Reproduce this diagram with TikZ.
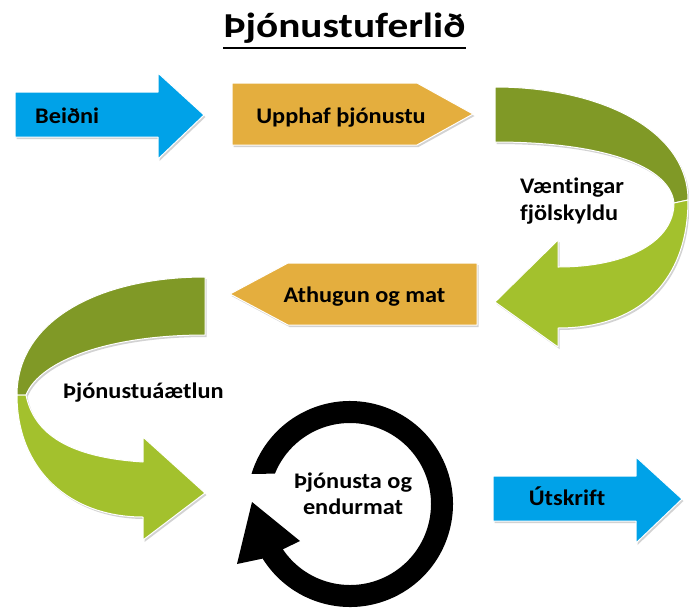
\documentclass[tikz,border=0pt]{standalone}
\usepackage{fontspec}
\setmainfont{Carlito}
\newfontfamily\labelfont[FakeStretch=1.09, Ligatures=NoCommon]{Carlito}
\newfontfamily\titlefont[FakeStretch=1.18, Ligatures=NoCommon]{Carlito}
\usetikzlibrary{positioning,shadows}

\definecolor{arrowblue}{RGB}{0,162,232}
\definecolor{boxgold}{RGB}{228,174,62}
\definecolor{darkolive}{RGB}{128,153,38}
\definecolor{limegreen}{RGB}{163,193,45}

\tikzset{
  shape3d/.style={draw=white, line width=1pt, line join=round,
    drop shadow={shadow xshift=1.5pt, shadow yshift=-2pt, fill=black!35}},
  steptext/.style={font=\labelfont\bfseries\fontsize{22.3}{26.5}\selectfont, inner sep=0pt}
}

\begin{document}
\begin{tikzpicture}[x=1pt, y=-1pt]
    \useasboundingbox (0,0) rectangle (689,614);

    % Title
    \node[font=\titlefont\bfseries\fontsize{35}{40}\selectfont, inner sep=0pt, anchor=base] (title) at (344.5,37.7) {Þjónustuferlið};
    \draw[line width=2.5pt] ([yshift=-4pt]title.south west) -- ([yshift=-4pt]title.south east);

    % Draw blue arrows (start and end)
    \foreach \x/\y in {15/115, 493/499} {
      \fill[arrowblue, shape3d] (\x,\y-23) -- (\x+143,\y-23) -- (\x+143,\y-42) -- (\x+189,\y)
        -- (\x+143,\y+44) -- (\x+143,\y+22) -- (\x,\y+22) -- cycle;
    }

    % Draw gold boxes
    \fill[boxgold, shape3d] (232,83) -- (417,83) -- (473,114) -- (417,145) -- (232,145) -- cycle;
    \fill[boxgold, shape3d] (230,294) -- (288,263) -- (477,263) -- (477,325) -- (288,325) -- cycle;

    % Right turning arrow
    \fill[darkolive, shape3d] (495,87) .. controls (600,87) and (688,130) .. (688,200)
      -- (674,203) .. controls (670,165) and (600,142) .. (495,142) -- cycle;
    \fill[limegreen, shape3d] (688,200) .. controls (688,280) and (640,328) .. (558,328)
      -- (558,347) -- (495,302) -- (558,240) -- (558,267)
      .. controls (630,267) and (674,240) .. (674,203) -- cycle;

    % Left turning arrow
    \fill[darkolive, shape3d] (205,277) .. controls (100,277) and (17,320) .. (17,395)
      -- (26,395) .. controls (40,360) and (110,335) .. (205,335) -- cycle;
    \fill[limegreen, shape3d] (17,395) .. controls (17,470) and (70,517) .. (143,517)
      -- (143,540) -- (205,493) -- (143,437) -- (143,462)
      .. controls (80,458) and (35,440) .. (26,395) -- cycle;

    % Circular arrow
    \begin{scope}[shift={(350,504)}]
      \fill[black] (197:103) arc[start angle=197, end angle=508, radius=103]
        -- (-113,60) -- (-98,-2) -- (-50,37)
        -- (506:81) arc[start angle=506, end angle=202, radius=81] -- cycle;
    \end{scope}

    % Labels
    \node[steptext, anchor=base west] (beidni) at (35,123) {Beiðni};
    \node[steptext, anchor=base] (upphaf) at (341,123) {Upphaf þjónustu};
    \node[steptext, align=left, anchor=west] (vaentingar) at (520,201) {Væntingar\\fjölskyldu};
    \node[steptext, anchor=base] (athugun) at (364.5,302) {Athugun og mat};
    \node[steptext, anchor=base west] (aaetlun) at (63,398) {Þjónustuáætlun};
    \node[steptext, align=center] (endurmat) at (353,494) {Þjónusta og\\endurmat};
    \node[steptext, anchor=base] (utskrift) at (567,505) {Útskrift};
\end{tikzpicture}
\end{document}
